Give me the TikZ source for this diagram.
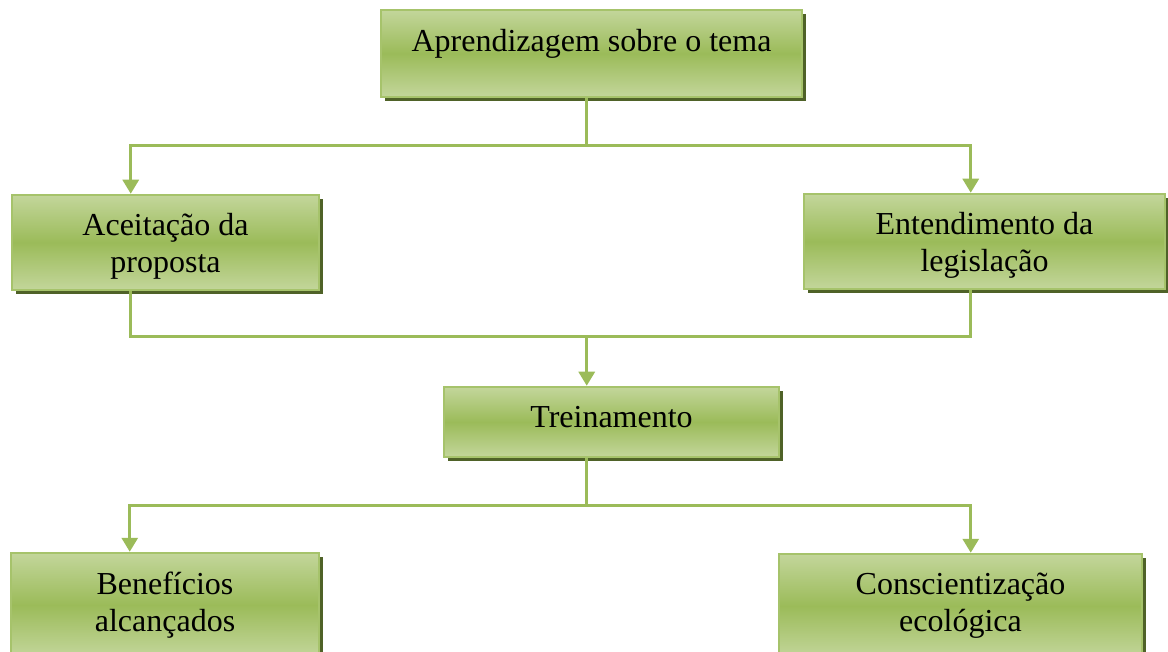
\documentclass[tikz,border=0pt]{standalone}
\usepackage{fontspec}
\setmainfont{Liberation Serif}
\usetikzlibrary{arrows.meta,shadows}
\definecolor{lnc}{HTML}{9BBB59}
\definecolor{bordc}{HTML}{A6C36B}
\definecolor{lightc}{HTML}{C3D69B}
\definecolor{midc}{HTML}{9BBB59}
\definecolor{shadc}{HTML}{4F6228}
\newcommand\shiftt[2]{\raisebox{#1}[\height][\depth]{#2}}
\tikzset{
  gbox/.style={draw=bordc, line width=2.5pt, top color=lightc, bottom color=lightc, middle color=midc,
    inner sep=0pt, align=center, anchor=center,
    font=\fontsize{32pt}{37pt}\selectfont,
    drop shadow={shadow xshift=4pt, shadow yshift=-4pt, fill=shadc, opacity=1}},
  ln/.style={draw=lnc, line width=3pt},
  arr/.style={ln, -{Triangle[width=16pt,length=14pt]}}
}
\begin{document}
\begin{tikzpicture}[x=1pt,y=-1pt]
\clip (0,0) rectangle (1168,652);
\fill[white] (0,0) rectangle (1168,652);
\node[gbox, minimum width=421pt, minimum height=87pt] (top) at (591.5,53.5) {\shiftt{10pt}{Aprendizagem sobre o tema}};
\node[gbox, minimum width=307pt, minimum height=95pt] (acc) at (165.5,242.5) {\shiftt{-4pt}{Aceitação da}\\\shiftt{-4pt}{proposta}};
\node[gbox, minimum width=361pt, minimum height=95pt] (ent) at (984.5,241.5) {\shiftt{-4pt}{Entendimento da}\\\shiftt{-4pt}{legislação}};
\node[gbox, minimum width=335pt, minimum height=70pt] (trein) at (611.5,422) {\shiftt{5pt}{Treinamento}};
\node[gbox, minimum width=308pt, minimum height=104pt] (ben) at (165,605) {Benefícios\\alcançados};
\node[gbox, minimum width=363pt, minimum height=104pt] (cons) at (960.5,606) {Conscientização\\ecológica};
% connectors
\coordinate (j1) at ([xshift=207pt,yshift=-47pt]top.south west);
\draw[ln] ([xshift=207pt]top.south west) -- (j1);
\draw[arr] (j1) -| ([xshift=120pt]acc.north west);
\draw[arr] (j1) -| ([xshift=168pt]ent.north west);
\coordinate (j2) at ([xshift=144pt,yshift=49pt]trein.north west);
\draw[ln] ([xshift=120pt]acc.south west) |- (j2) -| ([xshift=168pt]ent.south west);
\draw[arr] (j2) -- ([xshift=144pt]trein.north west);
\coordinate (j3) at ([xshift=144pt,yshift=-47pt]trein.south west);
\draw[ln] ([xshift=144pt]trein.south west) -- (j3);
\draw[arr] (j3) -| ([xshift=120pt]ben.north west);
\draw[arr] (j3) -| ([xshift=193pt]cons.north west);
\end{tikzpicture}
\end{document}
